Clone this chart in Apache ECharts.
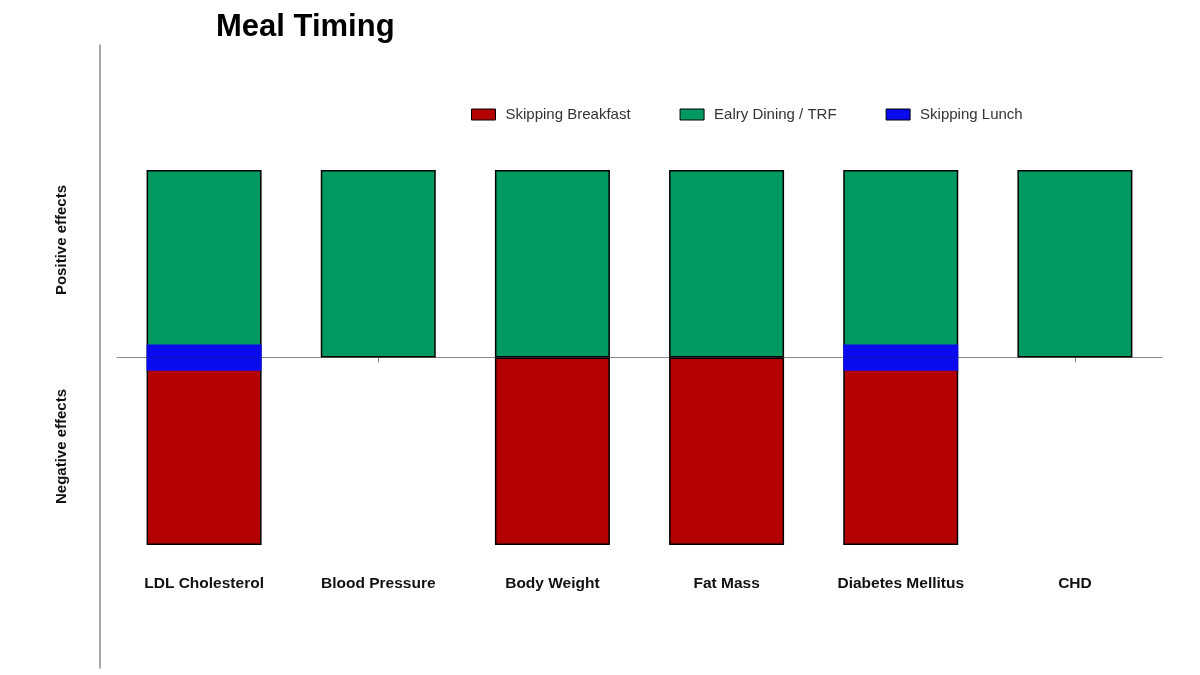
<!DOCTYPE html>
<html>
<head>
<meta charset="utf-8">
<script src="https://cdn.jsdelivr.net/npm/echarts@6/dist/echarts.min.js"></script>
<style>
html,body{margin:0;padding:0;background:#fff;}
#chart{width:1200px;height:675px;}
</style>
</head>
<body>
<div id="chart"></div>
<script>
// ---- data ----
var categories = ['LDL Cholesterol', 'Blood Pressure', 'Body Weight', 'Fat Mass', 'Diabetes Mellitus', 'CHD'];
var skippingBreakfast = [-1, null, -1, -1, -1, null];
var earlyDining = [1, 1, 1, 1, 1, 1];
// Skipping Lunch straddles zero: half-extent above and below the axis
var skippingLunch = [0.07, null, null, null, 0.07, null];
var yLabels = ['Positive effects', 'Negative effects'];

var FONT = "'Liberation Sans', Arial, sans-serif";
var chart = echarts.init(document.getElementById('chart'), null, {renderer: 'canvas'});

var barCommon = {
  type: 'bar',
  xAxisIndex: 0,
  yAxisIndex: 0,
  barWidth: 115,
  barGap: '-100%',
  animation: false
};

var option = {
  backgroundColor: '#ffffff',
  animation: false,
  title: {
    text: 'Meal Timing',
    left: 211,
    top: 7,
    textStyle: {fontFamily: FONT, fontSize: 31, fontWeight: 'bold', color: '#000'}
  },
  legend: {
    left: 466,
    top: 102,
    icon: 'rect',
    itemWidth: 24,
    itemHeight: 11,
    itemGap: 49,
    itemStyle: {borderColor: '#000', borderWidth: 1},
    textStyle: {fontFamily: FONT, fontSize: 15, color: '#333', padding: [0, 0, 0, 5]},
    data: ['Skipping Breakfast', 'Ealry Dining / TRF', 'Skipping Lunch']
  },
  grid: [
    {left: 117, right: 38, top: 170, bottom: 130},
    {left: 100, width: 10, top: 45, bottom: 7}
  ],
  xAxis: [
    {
      type: 'category', gridIndex: 0, data: categories,
      axisLine: {onZero: true, lineStyle: {color: '#8a8a8a', width: 1.2}},
      axisTick: {show: true, alignWithLabel: true, length: 5, lineStyle: {color: '#8a8a8a'}},
      axisLabel: {show: false}
    },
    {
      type: 'category', gridIndex: 0, data: categories, position: 'bottom',
      axisLine: {show: false, onZero: false},
      axisTick: {show: false},
      axisLabel: {show: true, margin: 31, fontFamily: FONT, fontSize: 15.5, fontWeight: 'bold', color: '#111'}
    },
    {type: 'value', gridIndex: 1, show: false}
  ],
  yAxis: [
    {type: 'value', gridIndex: 0, min: -1, max: 1, show: false},
    {
      type: 'value', gridIndex: 1, min: 0, max: 1,
      axisLine: {show: true, lineStyle: {color: '#8a8a8a', width: 1.5}},
      axisTick: {show: false}, axisLabel: {show: false}, splitLine: {show: false}
    }
  ],
  graphic: [
    {
      type: 'text', left: 54, top: 185, rotation: Math.PI / 2,
      style: {text: yLabels[0], fontFamily: FONT, fontSize: 15, fontWeight: 'bold', fill: '#111'}
    },
    {
      type: 'text', left: 54, top: 389, rotation: Math.PI / 2,
      style: {text: yLabels[1], fontFamily: FONT, fontSize: 15, fontWeight: 'bold', fill: '#111'}
    }
  ],
  series: [
    Object.assign({}, barCommon, {
      name: 'Skipping Breakfast', data: skippingBreakfast,
      itemStyle: {color: '#b30000', borderColor: '#000', borderWidth: 1.5}
    }),
    Object.assign({}, barCommon, {
      name: 'Ealry Dining / TRF', data: earlyDining,
      itemStyle: {color: '#009962', borderColor: '#000', borderWidth: 1.5}
    }),
    Object.assign({}, barCommon, {
      name: 'Skipping Lunch', data: skippingLunch,
      itemStyle: {color: '#0a0aef'}
    }),
    Object.assign({}, barCommon, {
      name: 'Skipping Lunch',
      data: skippingLunch.map(function (v) { return v == null ? null : -v; }),
      itemStyle: {color: '#0a0aef'}
    })
  ]
};
chart.setOption(option);
</script>
</body>
</html>
